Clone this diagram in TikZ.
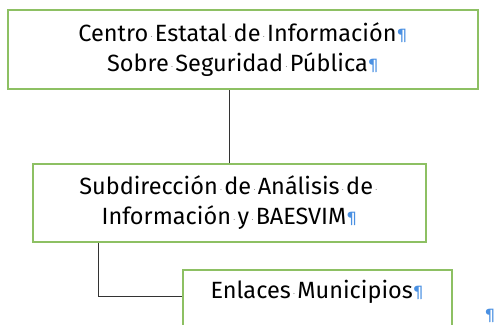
\documentclass[tikz,border=0pt]{standalone}
\usepackage{fontspec}
\setmainfont{Fira Sans}
\usetikzlibrary{positioning}
\definecolor{boxline}{HTML}{8DC063}
\definecolor{markblue}{HTML}{4A90E2}
\newcommand{\pil}{{\color{markblue}\fontsize{15}{15}\selectfont\raisebox{2pt}{¶}}}
\newcommand{\wsp}{\hbox to 0.28em{\hss\textcolor{gray}{\fontsize{8}{8}\selectfont\raisebox{2pt}{\textperiodcentered}}\hss}}
\tikzset{
  orgbox/.style = {draw=boxline, line width=1.5pt, align=center,
                   font=\fontsize{23.5}{30}\selectfont, inner sep=0pt},
  link/.style   = {draw=black!80, line width=1pt}
}

\begin{document}
\begin{tikzpicture}[x=1pt, y=1pt]
  \useasboundingbox (0,0) rectangle (498,-324);

  \node[orgbox, minimum width=470pt, minimum height=79pt] (cesp) at (243,-49.5)
       {Centro\wsp Estatal\wsp de\wsp Información\pil\\Sobre\wsp Seguridad\wsp Pública\pil};
  \node[orgbox, minimum width=393pt, minimum height=78pt] (sub) at (229.5,-203)
       {Subdirección\wsp de\wsp Análisis\wsp de\wsp\\Información\wsp y\wsp BAESVIM\pil};
  \node[orgbox, anchor=north west, text width=269pt, text height=29pt, text depth=50pt] (enl) at (182,-269)
       {Enlaces\wsp Municipios\pil};
  \node[text=markblue, font=\fontsize{15}{15}\selectfont, anchor=base, inner sep=0pt] (endmark) at (490,-319) {¶};

  \coordinate (bend) at (98,-296);
  \draw[link] (sub.north) -- (sub.north |- cesp.south);
  \draw[link] (sub.south -| bend) -- (bend) -- (bend -| enl.west);
\end{tikzpicture}
\end{document}
